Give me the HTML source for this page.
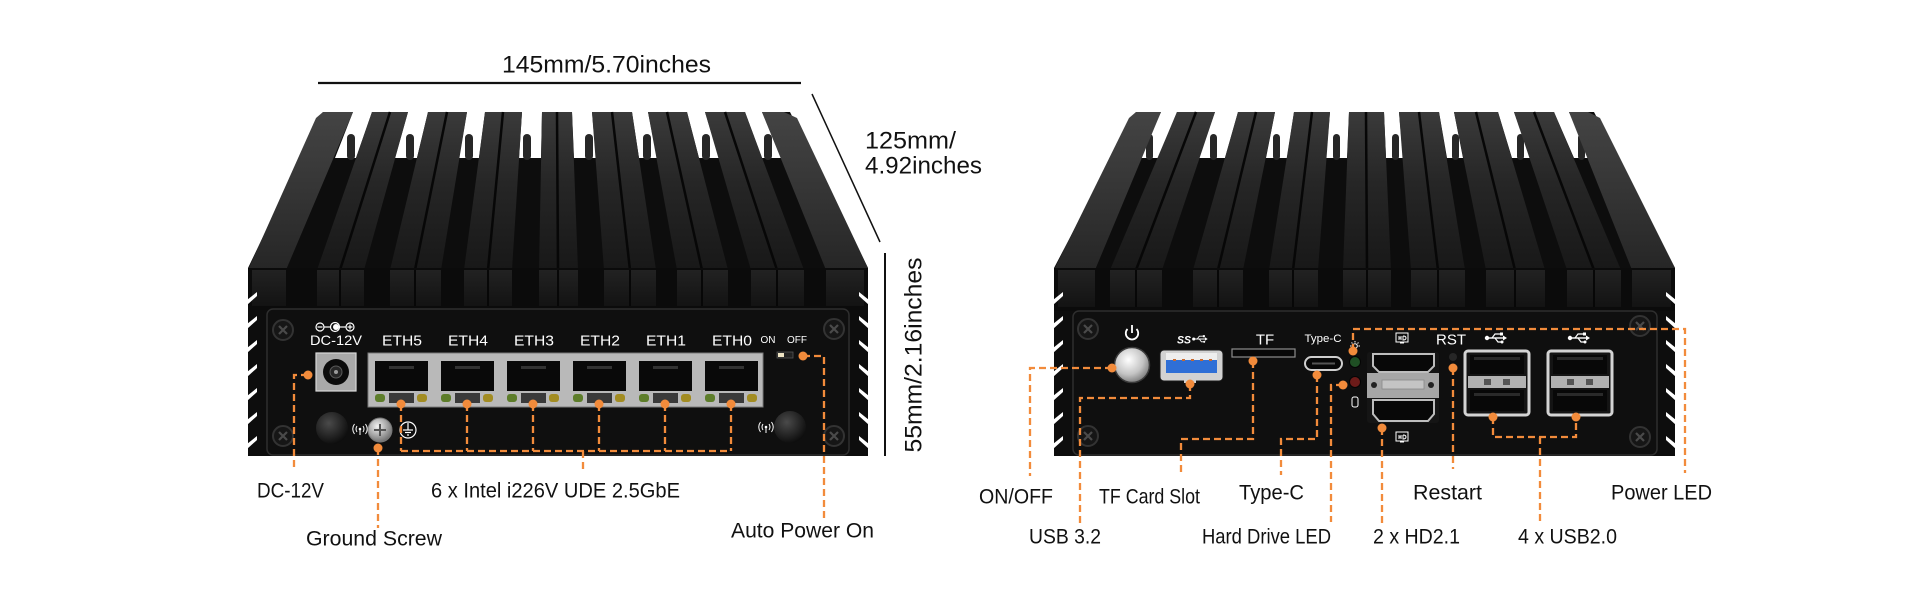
<!DOCTYPE html>
<html><head><meta charset="utf-8"><style>
html,body{margin:0;padding:0;background:#fff;}
svg{display:block;}
text{font-family:"Liberation Sans",sans-serif;}
</style></head><body>
<svg width="1920" height="600" viewBox="0 0 1920 600" xmlns="http://www.w3.org/2000/svg">
<defs>
<linearGradient id="fin" x1="0" y1="0" x2="0" y2="1"><stop offset="0" stop-color="#3a3a3a"/><stop offset="0.45" stop-color="#262626"/><stop offset="1" stop-color="#181818"/></linearGradient>
<linearGradient id="corner" x1="0" y1="0" x2="0" y2="1"><stop offset="0" stop-color="#444"/><stop offset="1" stop-color="#262626"/></linearGradient>
<linearGradient id="front" x1="0" y1="0" x2="0" y2="1"><stop offset="0" stop-color="#222"/><stop offset="1" stop-color="#131313"/></linearGradient>
<radialGradient id="btn" cx="0.4" cy="0.35" r="0.7"><stop offset="0" stop-color="#ffffff"/><stop offset="0.6" stop-color="#c4c4c4"/><stop offset="1" stop-color="#767676"/></radialGradient>
<radialGradient id="knob" cx="0.4" cy="0.35" r="0.75"><stop offset="0" stop-color="#4a4a4a"/><stop offset="1" stop-color="#060606"/></radialGradient>
<radialGradient id="gs" cx="0.4" cy="0.35" r="0.7"><stop offset="0" stop-color="#f4f4f4"/><stop offset="1" stop-color="#6a6a6a"/></radialGradient>
<g id="screw"><circle r="10" fill="#161616" stroke="#333" stroke-width="2"/><path d="M-4,-4 L4,4 M-4,4 L4,-4" stroke="#4a4a4a" stroke-width="2.2"/></g>
<g id="usbico" fill="#fff" stroke="#fff"><circle cx="-9" cy="0" r="2.2" stroke="none"/><line x1="-9" y1="0" x2="7" y2="0" stroke-width="1.4"/><path d="M7,-2.5 L11,0 L7,2.5Z" stroke="none"/><path d="M-4,0 L-1,-4 L4,-4" fill="none" stroke-width="1.2"/><rect x="4" y="-5.5" width="3" height="3" stroke="none"/><path d="M-1,0 L2,4 L5,4" fill="none" stroke-width="1.2"/><circle cx="6" cy="4" r="1.5" stroke="none"/></g>
<g id="wifi" fill="none" stroke="#fff" stroke-width="1"><circle cx="0" cy="-1" r="1.3" fill="#fff" stroke="none"/><line x1="0" y1="0" x2="0" y2="5"/><path d="M-3,-4 Q-5,-1 -3,2"/><path d="M3,-4 Q5,-1 3,2"/><path d="M-5.5,-6 Q-9,-1 -5.5,4"/><path d="M5.5,-6 Q9,-1 5.5,4"/></g>
<g id="usb2"><rect x="0" y="0" width="64" height="64" rx="3" fill="#141414" stroke="#d4d4d4" stroke-width="3"/><rect x="5" y="4" width="54" height="19" fill="#080808"/><rect x="9" y="6" width="46" height="3" fill="#2a2a2a"/><rect x="3" y="25" width="58" height="12" fill="#b2b2b2"/><rect x="19" y="28" width="7" height="6" fill="#555"/><rect x="38" y="28" width="7" height="6" fill="#555"/><rect x="5" y="39" width="54" height="21" fill="#080808"/><rect x="9" y="42" width="46" height="3" fill="#2a2a2a"/></g>
<g id="hdico" fill="none" stroke="#fff" stroke-width="1"><rect x="-6" y="-5" width="12" height="9"/><path d="M-3,-2 V2 M-3,0 H-1 M-1,-2 V2 M1,-2 V2 Q4,2 4,0 Q4,-2 1,-2"/><line x1="-2" y1="5" x2="2" y2="5"/></g>
</defs>

<!-- ============ LEFT DEVICE ============ -->
<polygon points="323,112 790,112 868,268 868,456 248,456 248,268" fill="#0d0d0d"/>
<!-- white gaps between fins -->
<g fill="#fff">
<polygon points="353,112 372,112 356,158 335,158"/>
<polygon points="408,112 428,112 417,158 395,158"/>
<polygon points="467,112 485,112 479,158 459,158"/>
<polygon points="522,112 542,112 541,158 519,158"/>
<polygon points="572,112 592,112 596,158 574,158"/>
<polygon points="632,112 648,112 657,158 639,158"/>
<polygon points="687,112 705,112 719,158 699,158"/>
<polygon points="745,112 762,112 781,158 762,158"/>
</g>
<g fill="#272727">
<rect x="347" y="134" width="8" height="26" rx="4"/><rect x="406" y="134" width="8" height="26" rx="4"/>
<rect x="465" y="134" width="8" height="26" rx="4"/><rect x="523" y="134" width="8" height="26" rx="4"/>
<rect x="585" y="134" width="8" height="26" rx="4"/><rect x="643" y="134" width="8" height="26" rx="4"/>
<rect x="702" y="134" width="8" height="26" rx="4"/><rect x="764" y="134" width="8" height="26" rx="4"/>
</g>
<!-- fins -->
<g fill="url(#fin)">
<polygon points="372,112 408,112 364,270 317,270"/>
<polygon points="428,112 467,112 441,270 390,270"/>
<polygon points="485,112 522,112 512,270 464,270"/>
<polygon points="542,112 572,112 578,270 539,270"/>
<polygon points="592,112 632,112 656,270 604,270"/>
<polygon points="648,112 687,112 728,270 677,270"/>
<polygon points="705,112 745,112 804,270 751,270"/>
</g>
<polygon points="316,118 323,112 353,112 286,270 248,270" fill="url(#corner)"/>
<polygon points="762,112 784,112 797,118 868,268 826,270" fill="url(#corner)"/>
<g stroke="#070707" stroke-width="2.5">
<line x1="390" y1="112" x2="340" y2="270"/><line x1="447" y1="112" x2="415" y2="270"/>
<line x1="503" y1="112" x2="488" y2="270"/><line x1="557" y1="112" x2="558" y2="270"/>
<line x1="612" y1="112" x2="630" y2="270"/><line x1="667" y1="112" x2="702" y2="270"/>
<line x1="725" y1="112" x2="777" y2="270"/>
</g>
<!-- front strip -->
<rect x="248" y="268" width="620" height="42" fill="#0b0b0b"/>
<g fill="url(#front)">
<rect x="252" y="270" width="34" height="36"/><rect x="317" y="270" width="47" height="36"/>
<rect x="390" y="270" width="51" height="36"/><rect x="464" y="270" width="48" height="36"/>
<rect x="539" y="270" width="39" height="36"/><rect x="604" y="270" width="52" height="36"/>
<rect x="677" y="270" width="51" height="36"/><rect x="751" y="270" width="53" height="36"/>
<rect x="826" y="270" width="38" height="36"/>
</g>
<g stroke="#070707" stroke-width="2">
<line x1="340" y1="270" x2="340" y2="306"/><line x1="415" y1="270" x2="415" y2="306"/>
<line x1="488" y1="270" x2="488" y2="306"/><line x1="558" y1="270" x2="558" y2="306"/>
<line x1="630" y1="270" x2="630" y2="306"/><line x1="702" y1="270" x2="702" y2="306"/>
<line x1="777" y1="270" x2="777" y2="306"/>
</g>
<!-- side notches -->
<g fill="#fff">
<polygon points="247,300 257,292 257,296 247,305"/><polygon points="247,324 257,316 257,320 247,329"/>
<polygon points="247,348 257,340 257,344 247,353"/><polygon points="247,372 257,364 257,368 247,377"/>
<polygon points="247,396 257,388 257,392 247,401"/><polygon points="247,420 257,412 257,416 247,425"/>
<polygon points="247,444 257,436 257,440 247,449"/>
<polygon points="869,300 859,292 859,296 869,305"/><polygon points="869,324 859,316 859,320 869,329"/>
<polygon points="869,348 859,340 859,344 869,353"/><polygon points="869,372 859,364 859,368 869,377"/>
<polygon points="869,396 859,388 859,392 869,401"/><polygon points="869,420 859,412 859,416 869,425"/>
<polygon points="869,444 859,436 859,440 869,449"/>
</g>
<!-- panel -->
<rect x="267" y="309" width="582" height="146" rx="6" fill="#0f0f0f" stroke="#2e2e2e" stroke-width="1.5"/>
<use href="#screw" x="283" y="330"/><use href="#screw" x="283" y="436"/>
<use href="#screw" x="834" y="329"/><use href="#screw" x="834" y="436"/>
<!-- DC symbol -->
<g stroke="#fff" stroke-width="1.2" fill="none">
<circle cx="320" cy="327" r="4"/><line x1="317.5" y1="327" x2="322.5" y2="327"/>
<line x1="324" y1="327" x2="330.5" y2="327"/>
<circle cx="335" cy="327" r="4.5"/>
<line x1="339.5" y1="327" x2="346" y2="327"/>
<circle cx="350" cy="327" r="4"/><line x1="347.5" y1="327" x2="352.5" y2="327"/><line x1="350" y1="324.5" x2="350" y2="329.5"/>
</g>
<circle cx="336" cy="327" r="3" fill="#fff"/>
<g fill="#fff" font-size="15" text-anchor="middle">
<text x="336" y="345" font-size="14" textLength="52" lengthAdjust="spacingAndGlyphs">DC-12V</text>
<text x="402" y="345.5" textLength="40" lengthAdjust="spacingAndGlyphs">ETH5</text>
<text x="468" y="345.5" textLength="40" lengthAdjust="spacingAndGlyphs">ETH4</text>
<text x="534" y="345.5" textLength="40" lengthAdjust="spacingAndGlyphs">ETH3</text>
<text x="600" y="345.5" textLength="40" lengthAdjust="spacingAndGlyphs">ETH2</text>
<text x="666" y="345.5" textLength="40" lengthAdjust="spacingAndGlyphs">ETH1</text>
<text x="732" y="345.5" textLength="40" lengthAdjust="spacingAndGlyphs">ETH0</text>
<text x="768" y="343" font-size="10">ON</text>
<text x="797" y="343" font-size="10">OFF</text>
</g>
<rect x="777" y="352" width="16" height="6" fill="#222" stroke="#555" stroke-width="0.8"/><rect x="778" y="353" width="6" height="4" fill="#eee4c4"/>
<!-- DC jack -->
<rect x="316" y="353" width="40" height="38" fill="#a9a9a9" stroke="#d8d8d8" stroke-width="1.2"/>
<circle cx="336" cy="372" r="13" fill="#0b0b0b"/><circle cx="336" cy="372" r="6" fill="#262626" stroke="#5a5a5a"/><circle cx="336" cy="372" r="2" fill="#9a9a9a"/>
<!-- RJ45 block -->
<rect x="368" y="353" width="395" height="54" fill="#b9b9b9" stroke="#7a7a7a" stroke-width="1"/>
<g>
<rect x="375" y="361" width="53" height="30" fill="#090909"/><rect x="389" y="366" width="25" height="3" fill="#333"/>
<rect x="441" y="361" width="53" height="30" fill="#090909"/><rect x="455" y="366" width="25" height="3" fill="#333"/>
<rect x="507" y="361" width="53" height="30" fill="#090909"/><rect x="521" y="366" width="25" height="3" fill="#333"/>
<rect x="573" y="361" width="53" height="30" fill="#090909"/><rect x="587" y="366" width="25" height="3" fill="#333"/>
<rect x="639" y="361" width="53" height="30" fill="#090909"/><rect x="653" y="366" width="25" height="3" fill="#333"/>
<rect x="705" y="361" width="53" height="30" fill="#090909"/><rect x="719" y="366" width="25" height="3" fill="#333"/>
</g>
<g fill="#3a3a3a">
<rect x="389" y="393" width="25" height="10"/><rect x="455" y="393" width="25" height="10"/><rect x="521" y="393" width="25" height="10"/>
<rect x="587" y="393" width="25" height="10"/><rect x="653" y="393" width="25" height="10"/><rect x="719" y="393" width="25" height="10"/>
</g>
<g fill="#5d7d2a">
<rect x="375" y="394" width="10" height="8" rx="3"/><rect x="441" y="394" width="10" height="8" rx="3"/><rect x="507" y="394" width="10" height="8" rx="3"/>
<rect x="573" y="394" width="10" height="8" rx="3"/><rect x="639" y="394" width="10" height="8" rx="3"/><rect x="705" y="394" width="10" height="8" rx="3"/>
</g>
<g fill="#a28c22">
<rect x="417" y="394" width="10" height="8" rx="3"/><rect x="483" y="394" width="10" height="8" rx="3"/><rect x="549" y="394" width="10" height="8" rx="3"/>
<rect x="615" y="394" width="10" height="8" rx="3"/><rect x="681" y="394" width="10" height="8" rx="3"/><rect x="747" y="394" width="10" height="8" rx="3"/>
</g>
<!-- antennas, ground -->
<circle cx="332" cy="428" r="16" fill="url(#knob)"/><circle cx="790" cy="427" r="16" fill="url(#knob)"/>
<use href="#wifi" x="360" y="430"/><use href="#wifi" x="766" y="428"/>
<circle cx="380" cy="430" r="12" fill="url(#gs)" stroke="#777"/><path d="M374,430 H386 M380,424 V436" stroke="#555" stroke-width="2"/>
<g stroke="#fff" stroke-width="1.2" fill="none"><circle cx="408" cy="430" r="8"/><line x1="408" y1="423" x2="408" y2="430"/><line x1="403" y1="430" x2="413" y2="430"/><line x1="405" y1="432.5" x2="411" y2="432.5"/><line x1="407" y1="435" x2="409" y2="435"/></g>

<!-- ============ RIGHT DEVICE ============ -->
<polygon points="1136,112 1594,112 1675,268 1675,456 1054,456 1054,268" fill="#0d0d0d"/>
<g fill="#fff">
<polygon points="1161,112 1177,112 1158,158 1140,158"/>
<polygon points="1215,112 1238,112 1225,158 1199,158"/>
<polygon points="1275,112 1294,112 1287,158 1266,158"/>
<polygon points="1330,112 1349,112 1347,158 1326,158"/>
<polygon points="1384,112 1399,112 1403,158 1386,158"/>
<polygon points="1439,112 1454,112 1463,158 1447,158"/>
<polygon points="1498,112 1514,112 1530,158 1512,158"/>
<polygon points="1554,112 1569,112 1590,158 1574,158"/>
</g>
<g fill="#272727">
<rect x="1146" y="134" width="7" height="26" rx="3.5"/><rect x="1210" y="134" width="7" height="26" rx="3.5"/>
<rect x="1273" y="134" width="7" height="26" rx="3.5"/><rect x="1333" y="134" width="7" height="26" rx="3.5"/>
<rect x="1392" y="134" width="7" height="26" rx="3.5"/><rect x="1452" y="134" width="7" height="26" rx="3.5"/>
<rect x="1517" y="134" width="7" height="26" rx="3.5"/><rect x="1578" y="134" width="7" height="26" rx="3.5"/>
</g>
<g fill="url(#fin)">
<polygon points="1177,112 1215,112 1162,270 1110,270"/>
<polygon points="1238,112 1275,112 1243,270 1193,270"/>
<polygon points="1294,112 1330,112 1318,270 1269,270"/>
<polygon points="1349,112 1384,112 1391,270 1343,270"/>
<polygon points="1399,112 1439,112 1465,270 1411,270"/>
<polygon points="1454,112 1498,112 1545,270 1486,270"/>
<polygon points="1514,112 1554,112 1621,270 1567,270"/>
</g>
<polygon points="1129,118 1136,112 1161,112 1095,270 1054,270" fill="url(#corner)"/>
<polygon points="1569,112 1588,112 1600,118 1675,268 1632,270" fill="url(#corner)"/>
<g stroke="#070707" stroke-width="2.5">
<line x1="1196" y1="112" x2="1136" y2="270"/><line x1="1256" y1="112" x2="1218" y2="270"/>
<line x1="1312" y1="112" x2="1293" y2="270"/><line x1="1366" y1="112" x2="1367" y2="270"/>
<line x1="1419" y1="112" x2="1438" y2="270"/><line x1="1476" y1="112" x2="1515" y2="270"/>
<line x1="1534" y1="112" x2="1594" y2="270"/>
</g>
<rect x="1054" y="268" width="621" height="43" fill="#0b0b0b"/>
<g fill="url(#front)">
<rect x="1058" y="270" width="37" height="37"/><rect x="1110" y="270" width="52" height="37"/>
<rect x="1193" y="270" width="50" height="37"/><rect x="1269" y="270" width="49" height="37"/>
<rect x="1343" y="270" width="48" height="37"/><rect x="1411" y="270" width="54" height="37"/>
<rect x="1486" y="270" width="59" height="37"/><rect x="1567" y="270" width="54" height="37"/>
<rect x="1632" y="270" width="39" height="37"/>
</g>
<g stroke="#070707" stroke-width="2">
<line x1="1136" y1="270" x2="1136" y2="307"/><line x1="1218" y1="270" x2="1218" y2="307"/>
<line x1="1293" y1="270" x2="1293" y2="307"/><line x1="1367" y1="270" x2="1367" y2="307"/>
<line x1="1438" y1="270" x2="1438" y2="307"/><line x1="1515" y1="270" x2="1515" y2="307"/>
<line x1="1594" y1="270" x2="1594" y2="307"/>
</g>
<g fill="#fff">
<polygon points="1053,300 1063,292 1063,296 1053,305"/><polygon points="1053,324 1063,316 1063,320 1053,329"/>
<polygon points="1053,348 1063,340 1063,344 1053,353"/><polygon points="1053,372 1063,364 1063,368 1053,377"/>
<polygon points="1053,396 1063,388 1063,392 1053,401"/><polygon points="1053,420 1063,412 1063,416 1053,425"/>
<polygon points="1053,444 1063,436 1063,440 1053,449"/>
<polygon points="1676,300 1666,292 1666,296 1676,305"/><polygon points="1676,324 1666,316 1666,320 1676,329"/>
<polygon points="1676,348 1666,340 1666,344 1676,353"/><polygon points="1676,372 1666,364 1666,368 1676,377"/>
<polygon points="1676,396 1666,388 1666,392 1676,401"/><polygon points="1676,420 1666,412 1666,416 1676,425"/>
<polygon points="1676,444 1666,436 1666,440 1676,449"/>
</g>
<rect x="1073" y="311" width="584" height="144" rx="6" fill="#0f0f0f" stroke="#2e2e2e" stroke-width="1.5"/>
<use href="#screw" x="1088" y="329"/><use href="#screw" x="1088" y="436"/>
<use href="#screw" x="1640" y="326"/><use href="#screw" x="1640" y="437"/>
<!-- power -->
<path d="M1127.5,329 A6.2,6.2 0 1 0 1136.5,329" stroke="#fff" stroke-width="1.8" fill="none"/><line x1="1132" y1="325" x2="1132" y2="333" stroke="#fff" stroke-width="1.8"/>
<circle cx="1132" cy="365" r="17.5" fill="url(#btn)" stroke="#3a3a3a" stroke-width="1.5"/>
<!-- USB3 -->
<rect x="1160" y="350" width="63" height="31" rx="4" fill="#d2d2d2" stroke="#1a1a1a" stroke-width="1"/>
<rect x="1166" y="353" width="51" height="8" fill="#eeeeee"/>
<rect x="1166" y="360" width="51" height="13" fill="#2f6fd6"/>
<g fill="#c86a30"><rect x="1173" y="359" width="3" height="2"/><rect x="1182" y="359" width="3" height="2"/><rect x="1191" y="359" width="3" height="2"/><rect x="1200" y="359" width="3" height="2"/><rect x="1209" y="359" width="3" height="2"/></g>
<rect x="1184" y="378" width="12" height="5" fill="#d2d2d2"/>
<text x="1177" y="343.5" fill="#fff" font-size="11" font-style="italic" font-weight="bold" textLength="14" lengthAdjust="spacingAndGlyphs">SS</text>
<use href="#usbico" x="1200" y="339" transform="translate(1200 339) scale(0.7) translate(-1200 -339)"/>
<!-- TF -->
<text x="1265" y="344.5" fill="#fff" font-size="15" text-anchor="middle">TF</text>
<rect x="1232" y="349" width="63" height="8" fill="#080808" stroke="#8e8e8e" stroke-width="1.2"/>
<!-- Type-C -->
<text x="1323" y="342" fill="#fff" font-size="11" text-anchor="middle" textLength="37" lengthAdjust="spacingAndGlyphs">Type-C</text>
<rect x="1305" y="357" width="37" height="13" rx="6.5" fill="#080808" stroke="#cfcfcf" stroke-width="2"/>
<rect x="1312" y="362.5" width="23" height="2" fill="#555"/>
<!-- LEDs -->
<g stroke="#fff" stroke-width="1" fill="none"><circle cx="1355" cy="346" r="2.3"/><path d="M1355,341 V342.5 M1355,349.5 V351 M1350,346 H1351.5 M1358.5,346 H1360 M1351.5,342.5 L1352.5,343.5 M1358.5,342.5 L1357.5,343.5"/></g>
<circle cx="1355" cy="362" r="5.5" fill="#1f4f24" stroke="#050505"/>
<circle cx="1355" cy="382" r="5.5" fill="#6c1b19" stroke="#050505"/>
<rect x="1352" y="397" width="6" height="10" rx="2" fill="none" stroke="#fff" stroke-width="1"/>
<!-- HDMI -->
<use href="#hdico" x="1402" y="338"/><use href="#hdico" x="1402" y="437"/>
<rect x="1367" y="352" width="72" height="71" rx="3" fill="#151515"/>
<path d="M1373,354 H1434 V366 L1428,372 H1379 L1373,366 Z" fill="#080808" stroke="#bdbdbd" stroke-width="2"/>
<rect x="1367" y="373" width="72" height="25" fill="#a6a6a6"/>
<rect x="1382" y="380" width="42" height="9" fill="#c4c4c4" stroke="#8a8a8a" stroke-width="0.8"/>
<circle cx="1374" cy="385" r="3" fill="#222"/><circle cx="1431" cy="385" r="3" fill="#222"/>
<path d="M1373,400 H1434 V414 L1428,421 H1379 L1373,414 Z" fill="#080808" stroke="#bdbdbd" stroke-width="2"/>
<!-- RST -->
<text x="1451" y="344.5" fill="#fff" font-size="15" text-anchor="middle">RST</text>
<circle cx="1453" cy="357" r="4" fill="#262626"/>
<!-- USB2 -->
<use href="#usb2" x="1465" y="351"/><use href="#usb2" x="1548" y="351"/>
<use href="#usbico" x="1496" y="338"/><use href="#usbico" x="1579" y="338"/>

<!-- ============ DIMENSIONS ============ -->
<g fill="#111" font-size="24">
<text x="502" y="72.5" textLength="209" lengthAdjust="spacingAndGlyphs">145mm/5.70inches</text>
<text x="865" y="148.5" textLength="91" lengthAdjust="spacingAndGlyphs">125mm/</text>
<text x="865" y="173.5" textLength="117" lengthAdjust="spacingAndGlyphs">4.92inches</text>
<text transform="translate(913 355) rotate(-90)" x="0" y="8.7" text-anchor="middle" textLength="195" lengthAdjust="spacingAndGlyphs">55mm/2.16inches</text>
</g>
<line x1="318" y1="83" x2="801" y2="83" stroke="#111" stroke-width="2.2"/>
<line x1="812" y1="94" x2="880" y2="242" stroke="#111" stroke-width="1.5"/>
<line x1="885" y1="253" x2="885" y2="456" stroke="#111" stroke-width="2"/>

<!-- ============ CONNECTORS ============ -->
<g fill="none" stroke="#f28b3b" stroke-width="2.3" stroke-dasharray="7 4">
<path d="M308,375 H294 V470"/>
<path d="M378,448 V528"/>
<path d="M401,404 V451 M467,404 V451 M533,404 V451 M599,404 V451 M665,404 V451 M731,404 V451 M401,451 H731 M583,451 V471"/>
<path d="M803,356 H824 V520"/>
<path d="M1112,368 H1030 V476"/>
<path d="M1190,384 V398 H1080 V524"/>
<path d="M1253,361 V439 H1181 V476"/>
<path d="M1317,375 V439 H1281 V475"/>
<path d="M1343,385 H1331 V522"/>
<path d="M1353,351 V329 H1685 V473"/>
<path d="M1382,428 V524"/>
<path d="M1453,368 V469"/>
<path d="M1493,417 V437 H1576 V417 M1540,437 V522"/>
</g>
<g fill="#f28b3b">
<circle cx="308" cy="375" r="4.5"/><circle cx="378" cy="448" r="4.5"/>
<circle cx="401" cy="404" r="4.5"/><circle cx="467" cy="404" r="4.5"/><circle cx="533" cy="404" r="4.5"/>
<circle cx="599" cy="404" r="4.5"/><circle cx="665" cy="404" r="4.5"/><circle cx="731" cy="404" r="4.5"/>
<circle cx="803" cy="356" r="4.5"/>
<circle cx="1112" cy="368" r="4.5"/><circle cx="1190" cy="384" r="4.5"/><circle cx="1253" cy="361" r="4.5"/>
<circle cx="1317" cy="375" r="4.5"/><circle cx="1343" cy="385" r="4.5"/><circle cx="1353" cy="351" r="4.5"/>
<circle cx="1382" cy="428" r="4.5"/><circle cx="1453" cy="368" r="4.5"/>
<circle cx="1493" cy="417" r="4.5"/><circle cx="1576" cy="417" r="4.5"/>
</g>

<!-- ============ LABELS ============ -->
<g fill="#111" font-size="21">
<text x="257" y="497.5" textLength="67" lengthAdjust="spacingAndGlyphs">DC-12V</text>
<text x="431" y="497.5" textLength="249" lengthAdjust="spacingAndGlyphs">6 x Intel i226V UDE 2.5GbE</text>
<text x="306" y="545.5" textLength="136" lengthAdjust="spacingAndGlyphs">Ground Screw</text>
<text x="731" y="537.5" textLength="143" lengthAdjust="spacingAndGlyphs">Auto Power On</text>
<text x="979" y="503.5" textLength="74" lengthAdjust="spacingAndGlyphs">ON/OFF</text>
<text x="1029" y="543.5" textLength="72" lengthAdjust="spacingAndGlyphs">USB 3.2</text>
<text x="1099" y="503.5" textLength="101" lengthAdjust="spacingAndGlyphs">TF Card Slot</text>
<text x="1239" y="499.5" textLength="65" lengthAdjust="spacingAndGlyphs">Type-C</text>
<text x="1202" y="543.5" textLength="129" lengthAdjust="spacingAndGlyphs">Hard Drive LED</text>
<text x="1373" y="543.5" textLength="87" lengthAdjust="spacingAndGlyphs">2 x HD2.1</text>
<text x="1413" y="499.5" textLength="69" lengthAdjust="spacingAndGlyphs">Restart</text>
<text x="1518" y="543.5" textLength="99" lengthAdjust="spacingAndGlyphs">4 x USB2.0</text>
<text x="1611" y="499.5" textLength="101" lengthAdjust="spacingAndGlyphs">Power LED</text>
</g>
</svg>
</body></html>
